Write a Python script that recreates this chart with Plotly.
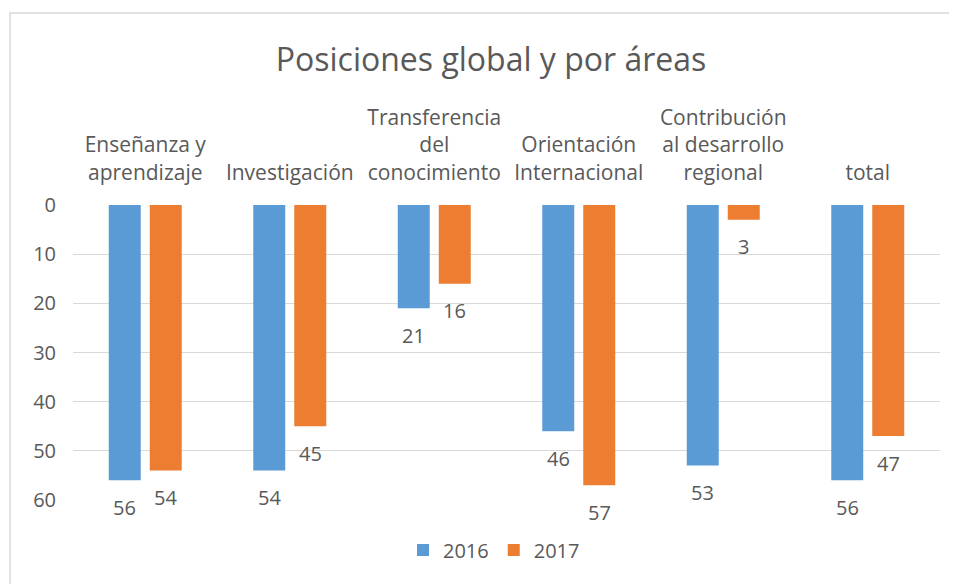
import plotly.graph_objects as go

categories = ["Enseñanza y<br>aprendizaje", "Investigación", "Transferencia<br>del<br>conocimiento",
              "Orientación<br>Internacional", "Contribución<br>al desarrollo<br>regional", "total"]
values_2016 = [56, 54, 21, 46, 53, 56]
values_2017 = [54, 45, 16, 57, 3, 47]
series_names = ["2016", "2017"]
tick_values = [0, 10, 20, 30, 40, 50, 60]

FONT = "Open Sans"
GREY = "#595959"

W, H = 949, 576
L, R, T, B = 65, 17, 197, 84
PW, PH = W - L - R, H - T - B
SLOT = PW / len(categories) * (1 - 0.4325) / 2

fig = go.Figure()
annotations = []
for k, (name, vals, color) in enumerate([(series_names[0], values_2016, "#5B9BD5"),
                                         (series_names[1], values_2017, "#ED7D31")]):
    fig.add_trace(go.Bar(
        x=categories, y=vals, name=name, marker=dict(color=color, line=dict(width=0)),
    ))
    for c, v in zip(categories, vals):
        annotations.append(dict(x=c, y=v, xref="x", yref="y", text=str(v), showarrow=False,
                                xshift=(k - 0.5) * SLOT, yshift=-27, yanchor="middle",
                                font=dict(family=FONT, size=20, color=GREY)))

fig.update_layout(
    width=W, height=H,
    margin=dict(l=L, r=R, t=T, b=B),
    paper_bgcolor="white", plot_bgcolor="white",
    barmode="group", bargap=0.4325, bargroupgap=0.22,
    title=dict(text="Posiciones global y por áreas", x=483 / W, xanchor="center", y=1 - 52 / H, yanchor="middle",
               font=dict(family=FONT, size=32, color=GREY)),
    font=dict(family=FONT, color=GREY),
    showlegend=True,
    legend=dict(orientation="h", x=(486 - L) / PW, xanchor="center", y=(PH - (542 - T)) / PH, yanchor="middle",
                font=dict(family=FONT, size=20, color=GREY)),
    xaxis=dict(side="top", showgrid=False, showline=False, ticks="", ticklabelstandoff=20,
               tickfont=dict(family=FONT, size=21, color=GREY)),
    yaxis=dict(range=[60, 0], tickvals=tick_values, showgrid=True, gridcolor="#D9D9D9", gridwidth=1,
               zeroline=False, showline=False, ticks="", ticklabelstandoff=16,
               tickfont=dict(family=FONT, size=20, color=GREY)),
    annotations=annotations,
    shapes=[dict(type="rect", xref="paper", yref="paper", x0=(2 - L) / PW, x1=1.2, y0=-0.6, y1=(PH + T - 5) / PH,
                 line=dict(color="#D9D9D9", width=1.5), fillcolor="rgba(0,0,0,0)", layer="below")],
)

fig.write_html("out.html")
